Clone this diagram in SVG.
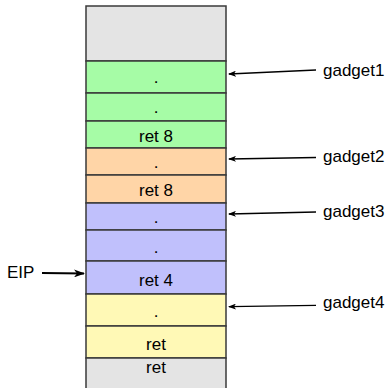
<svg xmlns="http://www.w3.org/2000/svg" width="389" height="388" viewBox="0 0 389 388">
  <style>
    .cell { stroke: #3a3a3a; stroke-width: 1.5; }
    .gray { fill: #e4e4e4; }
    .green { fill: #a6fca6; }
    .orange { fill: #ffd5a7; }
    .blue { fill: #c0c0fc; }
    .yellow { fill: #fff9b6; }
    .t { font-family: "Liberation Sans", Arial, sans-serif; font-size: 17px; fill: #000; }
    .mid { text-anchor: middle; }
    .conn { stroke: #000; stroke-width: 1.3; fill: none; marker-end: url(#head); }
    .eip { stroke: #000; stroke-width: 2.2; fill: none; marker-end: url(#headBig); }
  </style>
  <defs>
    <marker id="head" markerWidth="8" markerHeight="6" refX="7" refY="3" orient="auto" markerUnits="userSpaceOnUse">
      <path d="M0,0 L8,3 L0,6 L2,3 Z" fill="#000"/>
    </marker>
    <marker id="headBig" markerWidth="11" markerHeight="8" refX="10" refY="4" orient="auto" markerUnits="userSpaceOnUse">
      <path d="M0,0 L11,4 L0,8 L3,4 Z" fill="#000"/>
    </marker>
  </defs>

  <!-- stack cells, top to bottom -->
  <g id="cell-top"><rect class="cell gray" x="86" y="6" width="140" height="55"/></g>
  <g id="cell-g1a"><rect class="cell green" x="86" y="61" width="140" height="32"/><text class="t mid" x="156" y="83">.</text></g>
  <g id="cell-g1b"><rect class="cell green" x="86" y="93" width="140" height="28"/><text class="t mid" x="156" y="113">.</text></g>
  <g id="cell-g1c"><rect class="cell green" x="86" y="121" width="140" height="27"/><text class="t mid" x="156" y="142">ret 8</text></g>
  <g id="cell-g2a"><rect class="cell orange" x="86" y="148" width="140" height="27"/><text class="t mid" x="156" y="168">.</text></g>
  <g id="cell-g2b"><rect class="cell orange" x="86" y="175" width="140" height="28"/><text class="t mid" x="156" y="196">ret 8</text></g>
  <g id="cell-g3a"><rect class="cell blue" x="86" y="203" width="140" height="27"/><text class="t mid" x="156" y="223">.</text></g>
  <g id="cell-g3b"><rect class="cell blue" x="86" y="230" width="140" height="31"/><text class="t mid" x="156" y="253">.</text></g>
  <g id="cell-g3c"><rect class="cell blue" x="86" y="261" width="140" height="33"/><text class="t mid" x="156" y="286">ret 4</text></g>
  <g id="cell-g4a"><rect class="cell yellow" x="86" y="294" width="140" height="32"/><text class="t mid" x="156" y="317">.</text></g>
  <g id="cell-g4b"><rect class="cell yellow" x="86" y="326" width="140" height="32"/><text class="t mid" x="156" y="350">ret</text></g>
  <g id="cell-bottom"><rect class="cell gray" x="86" y="358" width="140" height="34"/><text class="t mid" x="156" y="373">ret</text></g>

  <!-- labels -->
  <g id="label-gadget1"><text class="t" x="323" y="76">gadget1</text></g>
  <g id="label-gadget2"><text class="t" x="323" y="162">gadget2</text></g>
  <g id="label-gadget3"><text class="t" x="323" y="217">gadget3</text></g>
  <g id="label-gadget4"><text class="t" x="323" y="308">gadget4</text></g>
  <g id="label-eip"><text class="t" x="7" y="278">EIP</text></g>

  <!-- connectors -->
  <g id="connectors">
    <path class="conn" d="M316,70 L229,74"/>
    <path class="conn" d="M316,157.5 L229,159"/>
    <path class="conn" d="M316,212 L229,214"/>
    <path class="conn" d="M316,305.3 L229,306.7"/>
    <path class="eip" d="M42,273 L84,273.5"/>
  </g>
</svg>
